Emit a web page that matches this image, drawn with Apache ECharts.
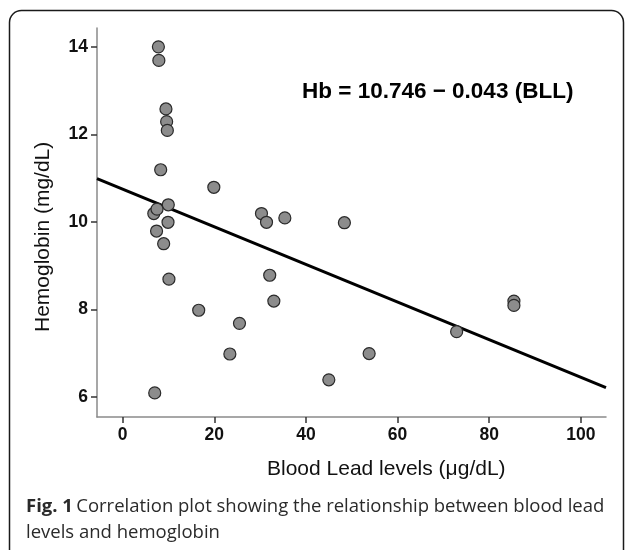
<!DOCTYPE html>
<html>
<head>
<meta charset="utf-8">
<script src="https://cdn.jsdelivr.net/npm/echarts@6/dist/echarts.min.js"></script>
<style>html,body{margin:0;padding:0;background:#fff}#c{width:627px;height:550px}</style>
</head>
<body>
<div id="c"></div>
<script>
// Blood lead level (µg/dL) and hemoglobin (mg/dL) readings
const bll = [7.8, 7.9, 9.45, 9.6, 9.75, 8.3, 19.9, 9.96, 6.8, 7.5, 9.9, 7.4, 8.95, 30.3, 31.4, 35.4, 48.4,
             10.1, 16.6, 25.5, 23.4, 7.0, 32.1, 33.0, 45.0, 53.8, 72.9, 85.4, 85.4];
const hb  = [14.0, 13.69, 12.58, 12.29, 12.09, 11.19, 10.79, 10.39, 10.19, 10.29, 9.99, 9.79, 9.5, 10.19, 9.99, 10.09, 9.98,
             8.69, 7.98, 7.68, 6.98, 6.09, 8.78, 8.19, 6.39, 6.99, 7.49, 8.19, 8.09];
// Regression line end points (Hb = 10.746 - 0.043 BLL)
const fitX = [-5.6, 105.5];
const fitY = [10.99, 6.21];
const xTicks = [0, 20, 40, 60, 80, 100];
const yTicks = [6, 8, 10, 12, 14];
const equation = 'Hb = 10.746 \u2212 0.043 (BLL)';
const xTitle = 'Blood Lead levels (\u03bcg/dL)';
const yTitle = 'Hemoglobin (mg/dL)';

const points = bll.map((v, i) => [v, hb[i]]);
const fit = fitX.map((v, i) => [v, fitY[i]]);

const chart = echarts.init(document.getElementById('c'), null, {renderer: 'canvas'});
const axisFont = {fontFamily: 'Liberation Sans', fontWeight: 'bold', fontSize: 17.5, color: '#111'};
chart.setOption({
  animation: false,
  backgroundColor: '#fff',
  grid: {left: 97, right: 21, top: 28, bottom: 133, containLabel: false},
  xAxis: {
    type: 'value', min: -5.6, max: 105.5,
    splitLine: {show: false},
    axisLine: {show: true, onZero: false, lineStyle: {color: '#8a8a8a', width: 1.5}},
    axisTick: {show: true, customValues: xTicks, length: 6, lineStyle: {color: '#333', width: 1.5}},
    axisLabel: {show: true, customValues: xTicks, margin: 9, ...axisFont}
  },
  yAxis: {
    type: 'value', min: 5.54, max: 14.43,
    splitLine: {show: false},
    axisLine: {show: true, onZero: false, lineStyle: {color: '#8a8a8a', width: 1.5}},
    axisTick: {show: true, customValues: yTicks, length: 6, lineStyle: {color: '#333', width: 1.5}},
    axisLabel: {show: true, customValues: yTicks, margin: 9, ...axisFont}
  },
  series: [
    {
      type: 'line', data: fit, symbol: 'none', z: 2,
      lineStyle: {color: '#000', width: 3}
    },
    {
      type: 'scatter', data: points, symbol: 'circle', symbolSize: 12, z: 3,
      itemStyle: {color: '#8c8c8c', borderColor: '#2a2a2a', borderWidth: 1.2, opacity: 1}
    }
  ],
  graphic: [
    {type: 'rect', shape: {x: 9.5, y: 10.5, width: 614, height: 600, r: 12},
     style: {fill: 'none', stroke: '#1a1a1a', lineWidth: 1.5}, silent: true},
    {type: 'text', x: 302, y: 92,
     style: {text: equation, font: 'bold 22.5px "Liberation Sans", Arial, sans-serif', fill: '#000', textVerticalAlign: 'middle'}},
    {type: 'text', x: 267, y: 469,
     style: {text: xTitle, font: '21px "Liberation Sans", Arial, sans-serif', fill: '#111', textVerticalAlign: 'middle'}},
    {type: 'text', x: 43, y: 332, rotation: Math.PI / 2,
     style: {text: yTitle, font: '21px "Liberation Sans", Arial, sans-serif', fill: '#111', textVerticalAlign: 'middle', textAlign: 'left'}},
    {type: 'text', x: 26, y: 507,
     style: {
       text: '{b|Fig. 1} {r|Correlation plot showing the relationship between blood lead}',
       rich: {
         b: {font: 'bold 18.5px "Open Sans", sans-serif', fill: '#2a2a2a'},
         r: {font: '18.5px "Open Sans", sans-serif', fill: '#2a2a2a'}
       },
       textVerticalAlign: 'middle'
     }},
    {type: 'text', x: 26, y: 533,
     style: {text: 'levels and hemoglobin', font: '18.5px "Open Sans", sans-serif', fill: '#2a2a2a', textVerticalAlign: 'middle'}}
  ]
});
</script>
</body>
</html>
